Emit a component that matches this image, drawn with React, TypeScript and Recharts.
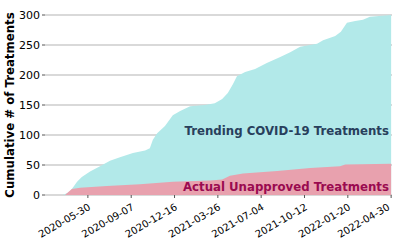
import React from "react";
import {
  ComposedChart,
  Area,
  XAxis,
  YAxis,
  CartesianGrid,
  ReferenceDot,
} from "recharts";

// days counted from 2020-05-30
const trendingDays = [
  -58, -42, -32, -25, -14, 5, 28, 51, 74, 104, 132, 143, 150, 160, 178, 196, 213,
  236, 270, 293, 310, 323, 335, 344, 363, 386, 413, 444, 467, 490, 529, 543, 571,
  584, 598, 617, 635, 651, 700,
];
const trendingCounts = [
  0, 5, 15, 22, 30, 39, 48, 57, 63, 70, 74, 78, 92, 103, 115, 133, 140,
  148, 150, 153, 160, 170, 185, 198, 205, 210, 220, 230, 238, 247, 252, 258, 265,
  272, 287, 290, 292, 297, 300,
];

const actualDays = [-53, -37, -18, 44, 120, 196, 282, 310, 328, 358, 437, 513, 582, 594, 700];
const actualCounts = [0, 10, 12, 15, 18, 22, 24, 26, 32, 36, 40, 45, 48, 51, 52];

const xTicks = [0, 100, 200, 300, 400, 500, 600, 700];
const xTickLabels = [
  "2020-05-30",
  "2020-09-07",
  "2020-12-16",
  "2021-03-26",
  "2021-07-04",
  "2021-10-12",
  "2022-01-20",
  "2022-04-30",
];
const yTicks = [0, 50, 100, 150, 200, 250, 300];

const trendingData = trendingDays.map((d, i) => ({ day: d, value: trendingCounts[i] }));
const actualData = actualDays.map((d, i) => ({ day: d, value: actualCounts[i] }));

const XTick = (props: any) => {
  const { x, y, payload } = props;
  const label = xTickLabels[xTicks.indexOf(payload.value)];
  return (
    <g transform={`translate(${x},${y + 3})`}>
      <text
        x={0}
        y={0}
        dy="0.7em"
        textAnchor="end"
        transform="rotate(-30)"
        fontSize={10}
        fill="#000"
      >
        {label}
      </text>
    </g>
  );
};

const YLabel = (props: any) => {
  const { viewBox } = props;
  const cx = 14;
  const cy = viewBox.y + viewBox.height / 2;
  return (
    <text
      x={cx}
      y={cy}
      transform={`rotate(-90, ${cx}, ${cy})`}
      textAnchor="middle"
      fontSize={11.75}
      fontWeight="bold"
      fill="#000"
    >
      Cumulative # of Treatments
    </text>
  );
};

const App = () => {
  return (
    <div
      style={{
        position: "absolute",
        left: 0,
        top: 0,
        width: 399,
        height: 241,
        background: "#fff",
        fontFamily: "DejaVu Sans",
      }}
    >
      <ComposedChart
        width={399}
        height={241}
        margin={{ top: 15, right: 7, bottom: 0, left: 0 }}
      >
        <CartesianGrid vertical={false} stroke="#cccccc" strokeWidth={1.5} />
        <XAxis
          type="number"
          dataKey="day"
          domain={[-99, 702]}
          ticks={xTicks}
          tick={<XTick />}
          height={46}
          axisLine={false}
          tickSize={3}
          tickLine={{ stroke: "#555" }}
          allowDataOverflow
        />
        <YAxis
          type="number"
          domain={[0, 300]}
          ticks={yTicks}
          width={45}
          axisLine={false}
          tickSize={3}
          tickMargin={2}
          tickLine={{ stroke: "#555" }}
          tick={{ fontSize: 11, fill: "#000" }}
          label={<YLabel />}
        />
        <Area
          data={trendingData}
          dataKey="value"
          type="linear"
          stroke="none"
          fill="#b2e9e9"
          fillOpacity={1}
          isAnimationActive={false}
        />
        <Area
          data={actualData}
          dataKey="value"
          type="linear"
          stroke="none"
          fill="#e8a1ae"
          fillOpacity={1}
          isAnimationActive={false}
        />
        <ReferenceDot
          x={695}
          y={107}
          r={0}
          stroke="none"
          label={{
            value: "Trending COVID-19 Treatments",
            position: "left",
            offset: 0,
            fill: "#283f5c",
            fontWeight: "bold",
            fontSize: 11.75,
          }}
        />
        <ReferenceDot
          x={695}
          y={13}
          r={0}
          stroke="none"
          label={{
            value: "Actual Unapproved Treatments",
            position: "left",
            offset: 0,
            fill: "#9a0a50",
            fontWeight: "bold",
            fontSize: 11.75,
          }}
        />
      </ComposedChart>
    </div>
  );
};

export default App;
